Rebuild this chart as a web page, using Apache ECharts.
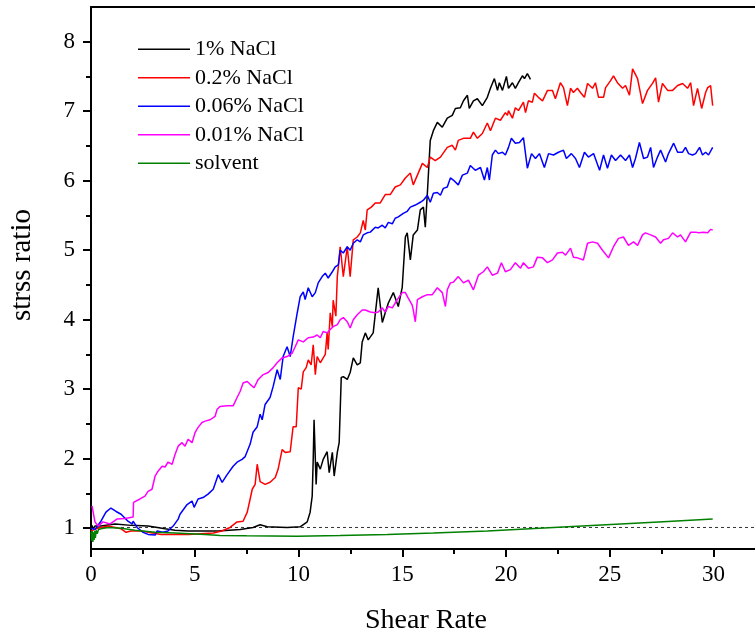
<!DOCTYPE html>
<html>
<head>
<meta charset="utf-8">
<script src="https://cdn.jsdelivr.net/npm/echarts@6/dist/echarts.min.js"></script>
<style>html,body{margin:0;padding:0;background:#fff}#c{width:755px;height:638px}</style>
</head>
<body>
<div id="c"></div>
<script>
const seriesNames = ['1% NaCl', '0.2% NaCl', '0.06% NaCl', '0.01% NaCl', 'solvent'];
const xMajorTicks = [0, 5, 10, 15, 20, 25, 30];
const xMinorTicks = [2.5, 7.5, 12.5, 17.5, 22.5, 27.5];
const yMajorTicks = [1, 2, 3, 4, 5, 6, 7, 8];
const yMinorTicks = [1.5, 2.5, 3.5, 4.5, 5.5, 6.5, 7.5];
const referenceLevel = 1.01;

const nacl1 = [[0,1.0],[0.05,1.04],[0.1,0.99],[0.19,1.03],[0.48,1.03],[1.16,1.06],[1.93,1.04],[2.75,1.03],[3.57,0.99],[4.05,0.97],[4.68,0.96],[6.13,0.96],[7.19,0.98],[7.81,1.01],[8.15,1.05],[8.49,1.02],[9.45,1.01],[10.08,1.02],[10.42,1.09],[10.56,1.23],[10.66,1.46],[10.71,2.0],[10.75,2.56],[10.85,1.63],[10.9,1.95],[11.05,1.85],[11.19,1.99],[11.38,2.10],[11.48,1.80],[11.63,2.09],[11.72,1.75],[11.87,2.09],[11.96,2.23],[12.06,3.17],[12.16,3.18],[12.35,3.14],[12.49,3.24],[12.64,3.45],[12.83,3.35],[12.98,3.38],[13.07,3.68],[13.22,3.81],[13.36,3.71],[13.6,3.81],[13.84,4.46],[14.04,3.96],[14.18,4.10],[14.33,4.24],[14.57,4.39],[14.81,4.19],[15.0,4.47],[15.15,5.19],[15.24,5.25],[15.39,4.86],[15.53,5.22],[15.73,5.29],[15.87,5.58],[16.02,5.62],[16.11,5.33],[16.21,5.82],[16.35,6.58],[16.5,6.72],[16.69,6.84],[16.74,6.82],[16.93,6.77],[17.17,6.90],[17.41,6.94],[17.56,7.04],[17.8,7.05],[17.95,7.15],[18.14,7.23],[18.23,7.04],[18.43,7.15],[18.62,7.18],[18.86,7.08],[19.1,7.20],[19.25,7.33],[19.44,7.47],[19.59,7.30],[19.68,7.41],[19.83,7.30],[20.02,7.50],[20.12,7.33],[20.31,7.41],[20.45,7.33],[20.6,7.41],[20.79,7.51],[20.89,7.47],[21.03,7.54],[21.18,7.46]];

const nacl02 = [[0,0.96],[0.34,1.0],[0.82,1.03],[1.45,0.99],[1.69,0.94],[1.93,0.96],[2.41,0.96],[3.38,0.91],[4.68,0.91],[5.9,0.93],[6.3,0.96],[6.7,1.01],[7.04,1.09],[7.33,1.10],[7.53,1.23],[7.67,1.42],[7.77,1.56],[7.91,1.63],[8.01,1.92],[8.15,1.67],[8.39,1.63],[8.63,1.66],[8.88,1.73],[9.02,1.85],[9.21,2.13],[9.36,2.09],[9.6,2.10],[9.74,2.46],[9.89,2.46],[9.99,3.02],[10.13,3.0],[10.23,3.25],[10.37,3.31],[10.47,3.42],[10.61,3.35],[10.71,3.64],[10.81,3.21],[10.9,3.47],[11.05,3.38],[11.19,3.45],[11.29,3.50],[11.38,3.81],[11.43,3.57],[11.53,4.10],[11.63,3.90],[11.67,4.28],[11.8,4.05],[11.87,4.62],[11.92,4.76],[12.01,5.05],[12.16,4.62],[12.35,5.05],[12.49,4.62],[12.64,5.15],[12.83,5.19],[12.98,5.25],[13.12,5.43],[13.22,5.29],[13.31,5.58],[13.51,5.62],[13.7,5.68],[13.94,5.68],[14.18,5.80],[14.42,5.80],[14.66,5.91],[14.91,5.94],[15.15,6.04],[15.39,6.11],[15.53,5.94],[15.73,6.08],[15.97,6.25],[16.21,6.19],[16.35,6.34],[16.59,6.29],[16.84,6.34],[17.17,6.48],[17.41,6.51],[17.56,6.44],[17.7,6.58],[17.95,6.61],[18.28,6.61],[18.43,6.70],[18.62,6.61],[18.86,6.68],[19.1,6.83],[19.25,6.72],[19.49,6.90],[19.73,6.87],[19.97,6.98],[20.07,6.94],[20.12,7.01],[20.31,6.90],[20.45,7.05],[20.6,7.01],[20.84,7.13],[20.94,6.98],[21.08,7.15],[21.27,7.13],[21.37,7.26],[21.56,7.20],[21.76,7.15],[22.0,7.30],[22.24,7.30],[22.38,7.18],[22.62,7.41],[22.77,7.34],[22.96,7.08],[23.11,7.33],[23.25,7.27],[23.44,7.33],[23.59,7.27],[23.78,7.20],[23.93,7.40],[24.17,7.33],[24.31,7.41],[24.46,7.20],[24.7,7.20],[24.8,7.34],[25.04,7.44],[25.18,7.51],[25.37,7.41],[25.62,7.33],[25.76,7.37],[25.95,7.23],[26.1,7.61],[26.34,7.47],[26.58,7.11],[26.82,7.30],[27.06,7.40],[27.21,7.48],[27.35,7.13],[27.54,7.40],[27.79,7.30],[28.03,7.30],[28.27,7.37],[28.51,7.40],[28.75,7.33],[28.9,7.41],[29.04,7.08],[29.23,7.33],[29.43,7.04],[29.62,7.27],[29.72,7.34],[29.86,7.37],[29.96,7.08]];

const nacl006 = [[0,1.0],[0.19,0.98],[0.48,1.10],[0.72,1.23],[0.96,1.29],[1.21,1.24],[1.45,1.20],[1.78,1.10],[1.98,1.06],[2.03,1.10],[2.22,1.01],[2.51,0.94],[2.75,0.91],[3.09,0.90],[3.18,0.96],[3.47,0.94],[3.71,0.96],[3.96,1.03],[4.2,1.13],[4.29,1.20],[4.63,1.34],[4.87,1.39],[4.97,1.30],[5.16,1.42],[5.4,1.44],[5.64,1.49],[5.89,1.56],[6.13,1.77],[6.32,1.66],[6.56,1.77],[6.85,1.89],[7.04,1.95],[7.28,1.99],[7.43,2.03],[7.67,2.21],[7.81,2.38],[8.01,2.46],[8.15,2.64],[8.25,2.56],[8.39,2.78],[8.63,2.88],[8.78,3.04],[8.97,3.28],[9.12,3.14],[9.26,3.47],[9.45,3.61],[9.6,3.47],[9.74,3.75],[9.94,4.10],[10.08,4.33],[10.23,4.40],[10.32,4.29],[10.47,4.46],[10.66,4.33],[10.81,4.39],[10.95,4.53],[11.14,4.62],[11.29,4.67],[11.43,4.60],[11.63,4.69],[11.77,4.76],[11.92,4.79],[12.01,5.0],[12.16,4.96],[12.35,5.05],[12.49,5.0],[12.64,5.10],[12.83,5.15],[12.98,5.12],[13.12,5.22],[13.31,5.25],[13.46,5.26],[13.7,5.33],[13.84,5.32],[14.04,5.36],[14.18,5.32],[14.33,5.40],[14.52,5.38],[14.66,5.46],[14.81,5.48],[15.05,5.53],[15.24,5.56],[15.39,5.62],[15.63,5.65],[15.87,5.69],[16.02,5.72],[16.21,5.79],[16.35,5.69],[16.5,5.82],[16.69,5.83],[16.84,5.79],[16.98,5.89],[17.17,5.91],[17.32,6.04],[17.46,6.01],[17.7,5.94],[17.9,6.08],[18.14,6.11],[18.28,6.22],[18.52,6.15],[18.77,6.19],[18.96,6.01],[19.1,6.19],[19.2,6.01],[19.34,6.37],[19.49,6.44],[19.63,6.39],[19.83,6.41],[19.97,6.37],[20.12,6.48],[20.26,6.61],[20.45,6.54],[20.65,6.55],[20.84,6.62],[21.03,6.18],[21.23,6.39],[21.42,6.32],[21.61,6.39],[21.85,6.19],[22.05,6.39],[22.29,6.37],[22.53,6.41],[22.77,6.44],[22.91,6.32],[23.15,6.39],[23.35,6.32],[23.54,6.19],[23.78,6.41],[23.97,6.34],[24.22,6.39],[24.51,6.15],[24.7,6.37],[24.89,6.18],[25.08,6.37],[25.28,6.29],[25.52,6.37],[25.76,6.29],[25.95,6.37],[26.1,6.19],[26.24,6.32],[26.43,6.55],[26.63,6.32],[26.82,6.34],[26.97,6.48],[27.11,6.19],[27.3,6.34],[27.45,6.44],[27.69,6.27],[27.83,6.39],[28.08,6.54],[28.27,6.41],[28.51,6.41],[28.65,6.48],[28.8,6.39],[28.99,6.37],[29.14,6.39],[29.33,6.48],[29.47,6.37],[29.62,6.41],[29.76,6.37],[29.96,6.48]];

const nacl001 = [[0.05,1.32],[0.19,1.09],[0.34,1.03],[0.58,1.09],[0.92,1.06],[1.25,1.13],[1.64,1.14],[2.03,1.16],[2.05,1.37],[2.36,1.42],[2.6,1.46],[2.75,1.53],[2.94,1.56],[3.09,1.75],[3.23,1.82],[3.43,1.89],[3.57,1.88],[3.71,1.95],[3.91,1.92],[4.05,2.06],[4.2,2.18],[4.39,2.23],[4.53,2.18],[4.68,2.28],[4.87,2.23],[5.02,2.38],[5.16,2.45],[5.35,2.52],[5.5,2.54],[5.74,2.56],[5.98,2.61],[6.08,2.71],[6.22,2.75],[6.56,2.76],[6.85,2.76],[7.04,2.88],[7.19,2.97],[7.33,3.09],[7.53,3.11],[7.67,3.07],[7.86,3.02],[8.06,3.14],[8.3,3.21],[8.54,3.24],[8.78,3.31],[8.97,3.38],[9.21,3.45],[9.45,3.47],[9.7,3.52],[9.84,3.61],[9.99,3.71],[10.23,3.68],[10.47,3.74],[10.71,3.75],[10.9,3.78],[11.05,3.74],[11.19,3.83],[11.38,3.81],[11.53,3.86],[11.67,3.90],[11.87,3.93],[12.01,4.0],[12.16,4.03],[12.35,3.97],[12.49,3.88],[12.64,4.0],[12.83,4.07],[13.07,4.14],[13.22,4.14],[13.46,4.11],[13.7,4.10],[13.84,4.11],[14.04,4.17],[14.18,4.11],[14.33,4.19],[14.52,4.17],[14.66,4.24],[14.81,4.31],[15.0,4.39],[15.15,4.39],[15.29,4.31],[15.48,4.21],[15.53,4.14],[15.63,3.97],[15.73,4.29],[15.97,4.33],[16.21,4.36],[16.45,4.36],[16.69,4.46],[16.93,4.39],[17.08,4.19],[17.17,4.43],[17.32,4.53],[17.46,4.54],[17.7,4.62],[17.95,4.53],[18.19,4.57],[18.43,4.43],[18.67,4.64],[18.91,4.69],[19.1,4.76],[19.34,4.64],[19.59,4.67],[19.78,4.82],[19.97,4.69],[20.21,4.72],[20.45,4.82],[20.7,4.74],[20.84,4.82],[21.08,4.74],[21.32,4.76],[21.51,4.90],[21.76,4.89],[22.0,4.82],[22.24,4.86],[22.48,4.96],[22.72,4.97],[22.87,4.93],[23.11,5.03],[23.25,4.90],[23.44,4.89],[23.73,4.86],[23.93,5.10],[24.17,5.12],[24.41,5.10],[24.65,5.0],[24.94,4.89],[25.18,5.05],[25.42,5.17],[25.66,5.19],[25.9,5.07],[26.15,5.12],[26.34,5.07],[26.58,5.22],[26.72,5.25],[26.97,5.22],[27.21,5.19],[27.45,5.10],[27.59,5.15],[27.83,5.17],[28.03,5.25],[28.27,5.19],[28.41,5.22],[28.65,5.12],[28.9,5.26],[29.14,5.26],[29.28,5.25],[29.52,5.26],[29.72,5.25],[29.86,5.30],[29.96,5.29]];

const solvent = [[0,0.95],[0.03,0.82],[0.06,0.96],[0.09,0.80],[0.12,0.94],[0.15,0.83],[0.18,0.96],[0.21,0.86],[0.25,0.97],[0.3,0.92],[0.36,0.98],[0.48,0.99],[0.82,1.01],[1.45,1.0],[2.12,0.97],[3.09,0.94],[4.05,0.93],[5.5,0.91],[6.22,0.895],[7.5,0.89],[9.94,0.885],[12.0,0.895],[14.28,0.91],[16.5,0.93],[19.1,0.96],[22.29,1.01],[25.52,1.06],[27.8,1.095],[29.96,1.13]];

const seriesData = [nacl1, nacl02, nacl006, nacl001, solvent];
const seriesColors = ['#000000', '#ff0000', '#0000ff', '#ff00ff', '#008000'];

const FONT = '"Liberation Serif", "Times New Roman", serif';
const chart = echarts.init(document.getElementById('c'), null, {renderer: 'canvas'});

const xBase = {type: 'value', min: 0, max: 32, gridIndex: 0, splitLine: {show: false}};
const yBase = {type: 'value', min: 0.7, max: 8.5, gridIndex: 0, splitLine: {show: false}};

const series = seriesNames.map((name, i) => ({
  name: name, type: 'line', data: seriesData[i], symbol: 'none', showSymbol: false,
  smooth: false, animation: false, z: 3 + i,
  lineStyle: {color: seriesColors[i], width: 1.5}, itemStyle: {color: seriesColors[i]}
}));
series.push({
  name: 'reference', type: 'line', symbol: 'none', animation: false, z: 2,
  data: [[0, referenceLevel], [32, referenceLevel]],
  lineStyle: {color: '#333', width: 1, type: [3, 3]}
});

chart.setOption({
  backgroundColor: '#fff',
  animation: false,
  grid: {left: 91, right: 0, top: 7, bottom: 89, containLabel: false},
  legend: {
    data: seriesNames.map(n => ({name: n, icon: 'rect'})),
    orient: 'vertical', left: 138, top: 38, padding: 0,
    itemWidth: 52, itemHeight: 1.6, itemGap: 6,
    textStyle: {fontFamily: FONT, fontSize: 22, color: '#000', lineHeight: 22.5},
    selectedMode: false
  },
  xAxis: [
    Object.assign({}, xBase, {
      position: 'bottom',
      axisLine: {show: true, onZero: false, lineStyle: {color: '#000', width: 2}},
      axisTick: {show: true, inside: false, length: 8, lineStyle: {color: '#000', width: 2}, customValues: xMajorTicks},
      axisLabel: {show: true, margin: 14, customValues: xMajorTicks, fontFamily: FONT, fontSize: 23, color: '#000'}
    }),
    Object.assign({}, xBase, {
      position: 'bottom',
      axisLine: {show: false, onZero: false},
      axisTick: {show: true, inside: false, length: 5, lineStyle: {color: '#000', width: 2}, customValues: xMinorTicks},
      axisLabel: {show: false}
    }),
    Object.assign({}, xBase, {
      position: 'top',
      axisLine: {show: true, onZero: false, lineStyle: {color: '#000', width: 2}},
      axisTick: {show: false}, axisLabel: {show: false}
    })
  ],
  yAxis: [
    Object.assign({}, yBase, {
      position: 'left',
      axisLine: {show: true, onZero: false, lineStyle: {color: '#000', width: 2}},
      axisTick: {show: true, inside: false, length: 8, lineStyle: {color: '#000', width: 2}, customValues: yMajorTicks},
      axisLabel: {show: true, margin: 16, customValues: yMajorTicks, fontFamily: FONT, fontSize: 23, color: '#000'}
    }),
    Object.assign({}, yBase, {
      position: 'left',
      axisLine: {show: false, onZero: false},
      axisTick: {show: true, inside: false, length: 5, lineStyle: {color: '#000', width: 2}, customValues: yMinorTicks},
      axisLabel: {show: false}
    })
  ],
  graphic: [
    {type: 'text', x: 426, y: 621, style: {text: 'Shear Rate', fontFamily: FONT, fontSize: 28, fill: '#000', textAlign: 'center', textVerticalAlign: 'middle'}},
    {type: 'text', x: 22, y: 265, rotation: Math.PI / 2, style: {text: 'strss ratio', fontFamily: FONT, fontSize: 29, fill: '#000', textAlign: 'center', textVerticalAlign: 'middle'}}
  ],
  series: series
});
</script>
</body>
</html>
